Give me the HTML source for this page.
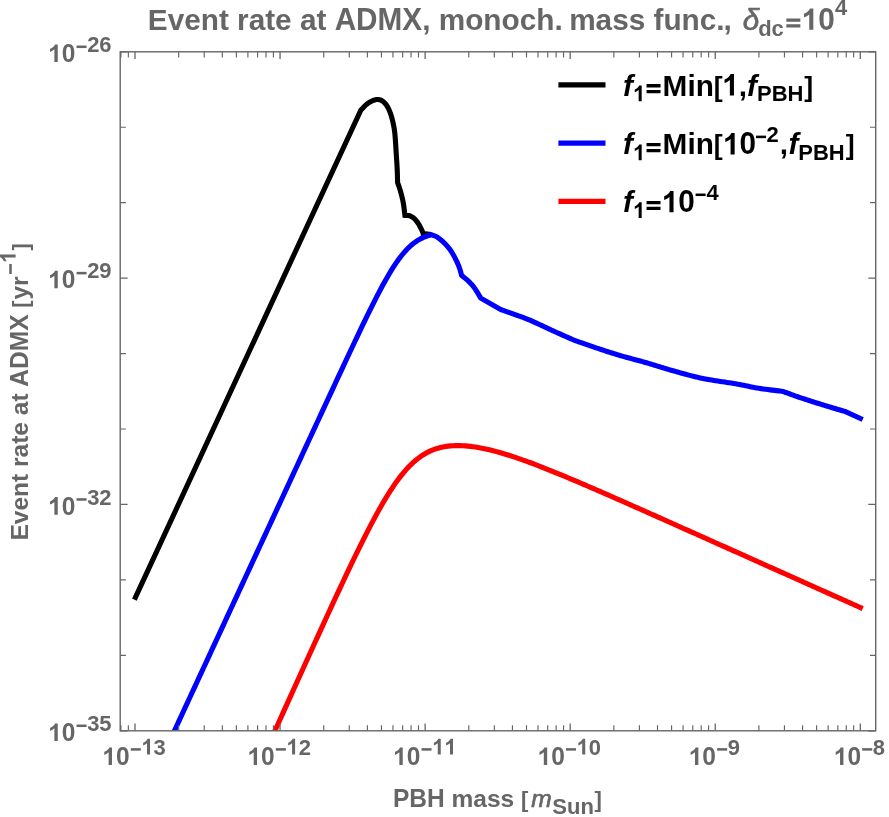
<!DOCTYPE html>
<html><head><meta charset="utf-8"><title>Event rate at ADMX</title>
<style>
html,body{margin:0;padding:0;background:#fff;}
svg{display:block;will-change:transform;font-family:"Liberation Sans",sans-serif;}
</style></head><body>
<svg width="889" height="817" viewBox="0 0 889 817">
<rect width="889" height="817" fill="#fff"/>
<clipPath id="c"><rect x="120.2" y="51.8" width="755.5" height="679.0"/></clipPath>
<g clip-path="url(#c)">
<path d="M134.40,599.65 L360.80,110.20 L361.10,109.89 L361.48,109.49 L361.92,109.02 L362.42,108.49 L362.96,107.91 L363.53,107.31 L364.12,106.70 L364.73,106.09 L365.33,105.50 L365.91,104.94 L366.47,104.44 L367.00,104.00 L367.51,103.61 L368.01,103.24 L368.52,102.90 L369.03,102.57 L369.54,102.27 L370.04,101.98 L370.53,101.71 L371.03,101.46 L371.51,101.22 L371.98,101.00 L372.45,100.79 L372.90,100.60 L373.34,100.42 L373.76,100.25 L374.18,100.10 L374.59,99.97 L374.98,99.85 L375.38,99.74 L375.76,99.66 L376.15,99.59 L376.53,99.54 L376.92,99.51 L377.31,99.49 L377.70,99.50 L378.10,99.52 L378.49,99.56 L378.89,99.61 L379.28,99.69 L379.68,99.77 L380.07,99.88 L380.46,100.01 L380.85,100.16 L381.24,100.33 L381.63,100.53 L382.02,100.75 L382.40,101.00 L382.78,101.28 L383.17,101.58 L383.56,101.90 L383.95,102.25 L384.33,102.62 L384.72,103.01 L385.10,103.43 L385.47,103.86 L385.84,104.32 L386.20,104.79 L386.56,105.29 L386.90,105.80 L387.23,106.33 L387.56,106.89 L387.89,107.48 L388.20,108.09 L388.51,108.71 L388.82,109.36 L389.12,110.02 L389.41,110.69 L389.69,111.38 L389.97,112.08 L390.24,112.79 L390.50,113.50 L390.75,114.22 L391.00,114.96 L391.24,115.71 L391.47,116.47 L391.69,117.25 L391.91,118.04 L392.12,118.84 L392.33,119.65 L392.53,120.47 L392.72,121.30 L392.91,122.15 L393.10,123.00 L393.28,123.84 L393.45,124.65 L393.62,125.44 L393.77,126.23 L393.93,127.03 L394.08,127.86 L394.22,128.72 L394.36,129.64 L394.50,130.62 L394.63,131.68 L394.77,132.84 L394.90,134.10 L395.03,135.50 L395.16,137.05 L395.29,138.72 L395.41,140.48 L395.54,142.31 L395.66,144.17 L395.77,146.05 L395.89,147.92 L395.99,149.74 L396.10,151.50 L396.20,153.16 L396.30,154.70 L396.39,156.14 L396.48,157.51 L396.57,158.82 L396.66,160.09 L396.74,161.32 L396.81,162.51 L396.89,163.68 L396.96,164.83 L397.02,165.97 L397.08,167.11 L397.14,168.25 L397.20,169.40 L397.25,170.59 L397.30,171.84 L397.34,173.11 L397.39,174.40 L397.42,175.67 L397.46,176.92 L397.49,178.11 L397.51,179.23 L397.54,180.26 L397.56,181.18 L397.58,181.97 L397.60,182.60 L397.72,182.94 L397.87,183.36 L398.05,183.85 L398.24,184.39 L398.46,184.98 L398.69,185.62 L398.92,186.29 L399.17,186.99 L399.41,187.71 L399.65,188.44 L399.88,189.17 L400.10,189.90 L400.32,190.65 L400.54,191.46 L400.78,192.30 L401.01,193.17 L401.25,194.07 L401.48,194.97 L401.71,195.87 L401.93,196.76 L402.15,197.63 L402.35,198.46 L402.53,199.26 L402.70,200.00 L402.85,200.69 L402.98,201.33 L403.10,201.94 L403.21,202.51 L403.31,203.07 L403.40,203.61 L403.49,204.14 L403.57,204.68 L403.65,205.22 L403.73,205.79 L403.81,206.38 L403.90,207.00 L403.99,207.68 L404.09,208.42 L404.19,209.20 L404.29,210.01 L404.38,210.83 L404.47,211.64 L404.56,212.42 L404.65,213.17 L404.72,213.86 L404.79,214.47 L404.85,214.99 L404.90,215.40 L405.13,215.41 L405.43,215.42 L405.77,215.42 L406.16,215.42 L406.58,215.43 L407.02,215.44 L407.49,215.46 L407.95,215.49 L408.42,215.54 L408.87,215.60 L409.30,215.69 L409.70,215.80 L410.08,215.93 L410.46,216.09 L410.84,216.25 L411.22,216.44 L411.60,216.64 L411.97,216.85 L412.34,217.08 L412.70,217.32 L413.06,217.57 L413.41,217.84 L413.76,218.11 L414.10,218.40 L414.44,218.70 L414.77,219.02 L415.09,219.36 L415.41,219.71 L415.73,220.07 L416.04,220.44 L416.35,220.83 L416.65,221.21 L416.95,221.61 L417.24,222.01 L417.52,222.40 L417.80,222.80 L418.07,223.20 L418.33,223.60 L418.59,224.02 L418.84,224.43 L419.08,224.86 L419.32,225.28 L419.55,225.71 L419.79,226.14 L420.01,226.58 L420.24,227.02 L420.47,227.46 L420.70,227.90 L420.94,228.36 L421.18,228.86 L421.43,229.38 L421.69,229.91 L421.94,230.44 L422.18,230.97 L422.42,231.48 L422.64,231.96 L422.84,232.40 L423.02,232.80 L423.18,233.13 L423.30,233.40 L423.30,233.60 L431.30,234.60" fill="none" stroke="#000" stroke-width="5.1" stroke-linejoin="miter" stroke-linecap="butt"/>
<path d="M169.00,742.49 L171.00,738.17 L173.00,733.85 L175.00,729.52 L177.00,725.20 L179.00,720.88 L181.00,716.56 L183.00,712.24 L185.00,707.92 L187.00,703.60 L189.00,699.28 L191.00,694.96 L193.00,690.64 L195.00,686.32 L197.00,682.00 L199.00,677.68 L201.00,673.35 L203.00,669.03 L205.00,664.71 L207.00,660.39 L209.00,656.07 L211.00,651.75 L213.00,647.43 L215.00,643.11 L217.00,638.79 L219.00,634.47 L221.00,630.15 L223.00,625.83 L225.00,621.50 L227.00,617.18 L229.00,612.86 L231.00,608.54 L233.00,604.22 L235.00,599.90 L237.00,595.58 L239.00,591.26 L241.00,586.94 L243.00,582.62 L245.00,578.30 L247.00,573.98 L249.00,569.66 L251.00,565.33 L253.00,561.01 L255.00,556.69 L257.00,552.37 L259.00,548.05 L261.00,543.73 L263.00,539.41 L265.00,535.09 L267.00,530.77 L269.00,526.45 L271.00,522.13 L273.00,517.81 L275.00,513.49 L277.00,509.17 L279.00,504.85 L281.00,500.52 L283.00,496.20 L285.00,491.88 L287.00,487.56 L289.00,483.24 L291.00,478.92 L293.00,474.60 L295.00,470.28 L297.00,465.96 L299.00,461.64 L301.00,457.33 L303.00,453.01 L305.00,448.69 L307.00,444.37 L309.00,440.05 L311.00,435.73 L313.00,431.42 L315.00,427.10 L317.00,422.78 L319.00,418.47 L321.00,414.15 L323.00,409.84 L325.00,405.53 L327.00,401.22 L329.00,396.91 L331.00,392.60 L333.00,388.30 L335.00,384.00 L337.00,379.70 L339.00,375.40 L341.00,371.11 L343.00,366.83 L345.00,362.54 L347.00,358.27 L349.00,354.00 L351.00,349.75 L353.00,345.50 L355.00,341.26 L357.00,337.04 L359.00,332.83 L361.00,328.64 L363.00,324.47 L365.00,320.32 L367.00,316.21 L369.00,312.12 L371.00,308.07 L373.00,304.05 L375.00,300.09 L377.00,296.17 L379.00,292.32 L381.00,288.53 L383.00,284.82 L385.00,281.19 L387.00,277.65 L389.00,274.21 L391.00,270.89 L393.00,267.68 L395.00,264.61 L397.00,261.67 L399.00,258.88 L401.00,256.24 L403.00,253.76 L405.00,251.44 L407.00,249.28 L409.00,247.29 L411.00,245.47 L413.00,243.80 L415.00,242.28 L417.00,240.92 L419.00,239.69 L421.00,238.60 L423.00,237.63 L425.00,236.77 L427.00,236.02 L429.00,235.36 L431.30,234.71 L431.59,234.81 L431.94,234.93 L432.35,235.07 L432.80,235.22 L433.30,235.38 L433.84,235.57 L434.40,235.77 L434.97,236.00 L435.56,236.26 L436.15,236.54 L436.73,236.85 L437.30,237.20 L437.87,237.58 L438.47,238.01 L439.08,238.46 L439.71,238.95 L440.35,239.46 L440.99,240.00 L441.64,240.55 L442.28,241.11 L442.91,241.69 L443.53,242.26 L444.12,242.83 L444.70,243.40 L445.26,243.97 L445.81,244.54 L446.34,245.12 L446.87,245.70 L447.39,246.30 L447.91,246.90 L448.41,247.51 L448.90,248.13 L449.39,248.76 L449.87,249.40 L450.34,250.04 L450.80,250.70 L451.25,251.37 L451.70,252.06 L452.14,252.76 L452.57,253.47 L452.99,254.20 L453.40,254.92 L453.80,255.66 L454.20,256.39 L454.59,257.13 L454.97,257.86 L455.34,258.58 L455.70,259.30 L456.06,260.01 L456.40,260.73 L456.74,261.45 L457.08,262.17 L457.40,262.89 L457.72,263.61 L458.03,264.33 L458.32,265.04 L458.61,265.74 L458.88,266.44 L459.15,267.12 L459.40,267.80 L459.64,268.49 L459.88,269.21 L460.11,269.94 L460.33,270.68 L460.53,271.42 L460.73,272.13 L460.92,272.82 L461.09,273.46 L461.24,274.06 L461.38,274.58 L461.50,275.04 L461.60,275.40 L461.90,275.65 L462.29,275.96 L462.73,276.32 L463.24,276.72 L463.78,277.16 L464.36,277.63 L464.96,278.12 L465.57,278.63 L466.18,279.15 L466.78,279.67 L467.36,280.19 L467.90,280.70 L468.42,281.20 L468.93,281.69 L469.45,282.18 L469.96,282.68 L470.47,283.19 L470.97,283.71 L471.49,284.25 L472.00,284.82 L472.52,285.41 L473.04,286.04 L473.57,286.70 L474.10,287.40 L474.66,288.19 L475.27,289.08 L475.90,290.04 L476.54,291.07 L477.20,292.12 L477.84,293.17 L478.46,294.20 L479.04,295.18 L479.58,296.08 L480.07,296.89 L480.47,297.57 L480.80,298.10 L500.60,309.50 L501.33,309.76 L502.25,310.08 L503.33,310.45 L504.54,310.87 L505.86,311.33 L507.26,311.81 L508.70,312.32 L510.17,312.83 L511.63,313.34 L513.05,313.85 L514.42,314.34 L515.70,314.80 L516.90,315.23 L518.05,315.64 L519.17,316.04 L520.27,316.43 L521.37,316.82 L522.47,317.22 L523.59,317.63 L524.75,318.07 L525.96,318.54 L527.23,319.04 L528.57,319.60 L530.00,320.20 L531.52,320.86 L533.12,321.58 L534.79,322.34 L536.51,323.13 L538.29,323.96 L540.10,324.81 L541.94,325.68 L543.80,326.56 L545.66,327.43 L547.52,328.30 L549.37,329.16 L551.20,330.00 L553.09,330.86 L555.11,331.77 L557.22,332.72 L559.38,333.69 L561.54,334.66 L563.68,335.61 L565.73,336.53 L567.68,337.40 L569.47,338.20 L571.06,338.91 L572.42,339.52 L573.50,340.00 L574.58,340.38 L575.93,340.85 L577.51,341.40 L579.28,342.03 L581.20,342.70 L583.25,343.42 L585.38,344.16 L587.56,344.92 L589.74,345.67 L591.90,346.42 L594.00,347.13 L596.00,347.80 L597.95,348.45 L599.91,349.10 L601.88,349.76 L603.87,350.41 L605.87,351.07 L607.88,351.72 L609.89,352.37 L611.91,353.01 L613.93,353.65 L615.95,354.28 L617.98,354.89 L620.00,355.50 L622.02,356.09 L624.05,356.67 L626.09,357.23 L628.13,357.78 L630.17,358.33 L632.22,358.87 L634.27,359.41 L636.31,359.95 L638.36,360.50 L640.41,361.05 L642.46,361.62 L644.50,362.20 L646.54,362.79 L648.58,363.40 L650.63,364.02 L652.67,364.64 L654.71,365.27 L656.76,365.90 L658.80,366.53 L660.84,367.16 L662.88,367.78 L664.92,368.40 L666.96,369.01 L669.00,369.60 L671.06,370.19 L673.16,370.79 L675.29,371.40 L677.43,372.00 L679.57,372.60 L681.69,373.19 L683.79,373.77 L685.85,374.33 L687.85,374.87 L689.79,375.38 L691.64,375.86 L693.40,376.30 L695.03,376.70 L696.51,377.06 L697.89,377.39 L699.17,377.69 L700.41,377.96 L701.62,378.22 L702.83,378.47 L704.08,378.71 L705.39,378.96 L706.80,379.22 L708.32,379.50 L710.00,379.80 L711.83,380.11 L713.78,380.43 L715.84,380.75 L717.98,381.08 L720.18,381.41 L722.43,381.74 L724.70,382.07 L726.97,382.41 L729.23,382.75 L731.45,383.10 L733.61,383.45 L735.70,383.80 L737.72,384.16 L739.72,384.54 L741.68,384.92 L743.63,385.31 L745.55,385.71 L747.47,386.11 L749.38,386.50 L751.29,386.89 L753.20,387.26 L755.12,387.63 L757.05,387.97 L759.00,388.30 L761.04,388.62 L763.21,388.93 L765.47,389.25 L767.78,389.55 L770.09,389.85 L772.36,390.13 L774.55,390.40 L776.61,390.65 L778.51,390.88 L780.20,391.08 L781.65,391.25 L782.80,391.40 L783.61,391.69 L784.61,392.06 L785.77,392.48 L787.06,392.96 L788.48,393.47 L789.99,394.02 L791.59,394.60 L793.24,395.19 L794.92,395.79 L796.63,396.39 L798.33,396.98 L800.00,397.55 L801.69,398.11 L803.44,398.69 L805.25,399.29 L807.11,399.89 L809.00,400.50 L810.92,401.11 L812.86,401.73 L814.80,402.34 L816.75,402.96 L818.69,403.56 L820.61,404.16 L822.50,404.75 L824.45,405.35 L826.51,405.98 L828.65,406.63 L830.83,407.28 L833.01,407.94 L835.16,408.57 L837.22,409.19 L839.17,409.77 L840.96,410.30 L842.55,410.77 L843.91,411.18 L845.00,411.50 L862.70,419.50" fill="none" stroke="#0000ff" stroke-width="5.1" stroke-linejoin="miter" stroke-linecap="butt"/>
<path d="M268.00,746.11 L270.50,740.57 L273.00,735.03 L275.50,729.50 L278.00,723.97 L280.50,718.44 L283.00,712.91 L285.50,707.38 L288.00,701.85 L290.50,696.33 L293.00,690.81 L295.50,685.29 L298.00,679.78 L300.50,674.26 L303.00,668.76 L305.50,663.25 L308.00,657.76 L310.50,652.26 L313.00,646.77 L315.50,641.29 L318.00,635.82 L320.50,630.35 L323.00,624.90 L325.50,619.45 L328.00,614.02 L330.50,608.59 L333.00,603.19 L335.50,597.79 L338.00,592.42 L340.50,587.06 L343.00,581.73 L345.50,576.43 L348.00,571.15 L350.50,565.90 L353.00,560.69 L355.50,555.51 L358.00,550.38 L360.50,545.30 L363.00,540.28 L365.50,535.31 L368.00,530.41 L370.50,525.58 L373.00,520.84 L375.50,516.18 L378.00,511.62 L380.50,507.17 L383.00,502.83 L385.50,498.61 L388.00,494.53 L390.50,490.59 L393.00,486.80 L395.50,483.17 L398.00,479.70 L400.50,476.41 L403.00,473.30 L405.50,470.36 L408.00,467.62 L410.50,465.05 L413.00,462.68 L415.50,460.48 L418.00,458.47 L420.50,456.63 L423.00,454.97 L425.50,453.47 L428.00,452.12 L430.50,450.93 L433.00,449.88 L435.50,448.97 L438.00,448.18 L440.50,447.51 L443.00,446.95 L445.50,446.50 L448.00,446.14 L450.50,445.88 L453.00,445.70 L455.50,445.59 L458.00,445.57 L460.50,445.61 L463.00,445.71 L465.50,445.87 L468.00,446.09 L470.50,446.36 L473.00,446.68 L475.50,447.05 L478.00,447.46 L480.50,447.91 L483.00,448.40 L485.50,448.93 L488.00,449.49 L490.50,450.08 L493.00,450.70 L495.50,451.36 L498.00,452.04 L500.50,452.74 L503.00,453.47 L505.50,454.22 L508.00,455.00 L510.50,455.79 L513.00,456.61 L515.50,457.44 L518.00,458.29 L520.50,459.15 L523.00,460.04 L525.50,460.93 L528.00,461.84 L530.50,462.76 L533.00,463.70 L535.50,464.65 L538.00,465.60 L540.50,466.57 L543.00,467.55 L545.50,468.53 L548.00,469.53 L550.50,470.53 L553.00,471.54 L555.50,472.56 L558.00,473.58 L560.50,474.61 L563.00,475.64 L565.50,476.68 L568.00,477.73 L570.50,478.78 L573.00,479.84 L575.50,480.89 L578.00,481.96 L580.50,483.02 L583.00,484.09 L585.50,485.17 L588.00,486.24 L590.50,487.32 L593.00,488.40 L595.50,489.49 L598.00,490.58 L600.50,491.66 L603.00,492.75 L605.50,493.85 L608.00,494.94 L610.50,496.04 L613.00,497.13 L615.50,498.23 L618.00,499.33 L620.50,500.43 L623.00,501.54 L625.50,502.64 L628.00,503.75 L630.50,504.85 L633.00,505.96 L635.50,507.06 L638.00,508.17 L640.50,509.28 L643.00,510.39 L645.50,511.50 L648.00,512.61 L650.50,513.72 L653.00,514.83 L655.50,515.95 L658.00,517.06 L660.50,518.17 L663.00,519.29 L665.50,520.40 L668.00,521.51 L670.50,522.63 L673.00,523.74 L675.50,524.86 L678.00,525.97 L680.50,527.09 L683.00,528.21 L685.50,529.32 L688.00,530.44 L690.50,531.55 L693.00,532.67 L695.50,533.79 L698.00,534.90 L700.50,536.02 L703.00,537.14 L705.50,538.26 L708.00,539.37 L710.50,540.49 L713.00,541.61 L715.50,542.73 L718.00,543.84 L720.50,544.96 L723.00,546.08 L725.50,547.20 L728.00,548.32 L730.50,549.43 L733.00,550.55 L735.50,551.67 L738.00,552.79 L740.50,553.91 L743.00,555.03 L745.50,556.14 L748.00,557.26 L750.50,558.38 L753.00,559.50 L755.50,560.62 L758.00,561.74 L760.50,562.86 L763.00,563.97 L765.50,565.09 L768.00,566.21 L770.50,567.33 L773.00,568.45 L775.50,569.57 L778.00,570.69 L780.50,571.81 L783.00,572.92 L785.50,574.04 L788.00,575.16 L790.50,576.28 L793.00,577.40 L795.50,578.52 L798.00,579.64 L800.50,580.76 L803.00,581.88 L805.50,582.99 L808.00,584.11 L810.50,585.23 L813.00,586.35 L815.50,587.47 L818.00,588.59 L820.50,589.71 L823.00,590.83 L825.50,591.95 L828.00,593.06 L830.50,594.18 L833.00,595.30 L835.50,596.42 L838.00,597.54 L840.50,598.66 L843.00,599.78 L845.50,600.90 L848.00,602.02 L850.50,603.13 L853.00,604.25 L855.50,605.37 L858.00,606.49 L860.50,607.61 L862.70,608.60" fill="none" stroke="#ff0000" stroke-width="5.1" stroke-linejoin="miter" stroke-linecap="butt"/>
</g>
<rect x="120.2" y="51.8" width="755.5" height="679.0" fill="none" stroke="#666" stroke-width="1.4"/>
<path d="M120.94,730.8 v-5.6 M120.94,51.8 v5.6" stroke="#666" stroke-width="1.15" fill="none"/>
<path d="M128.36,730.8 v-5.6 M128.36,51.8 v5.6" stroke="#666" stroke-width="1.15" fill="none"/>
<path d="M135.00,730.8 v-7.2 M135.00,51.8 v7.2" stroke="#666" stroke-width="1.3" fill="none"/>
<path d="M178.67,730.8 v-5.6 M178.67,51.8 v5.6" stroke="#666" stroke-width="1.15" fill="none"/>
<path d="M204.21,730.8 v-5.6 M204.21,51.8 v5.6" stroke="#666" stroke-width="1.15" fill="none"/>
<path d="M222.33,730.8 v-5.6 M222.33,51.8 v5.6" stroke="#666" stroke-width="1.15" fill="none"/>
<path d="M236.39,730.8 v-5.6 M236.39,51.8 v5.6" stroke="#666" stroke-width="1.15" fill="none"/>
<path d="M247.88,730.8 v-5.6 M247.88,51.8 v5.6" stroke="#666" stroke-width="1.15" fill="none"/>
<path d="M257.59,730.8 v-5.6 M257.59,51.8 v5.6" stroke="#666" stroke-width="1.15" fill="none"/>
<path d="M266.00,730.8 v-5.6 M266.00,51.8 v5.6" stroke="#666" stroke-width="1.15" fill="none"/>
<path d="M273.42,730.8 v-5.6 M273.42,51.8 v5.6" stroke="#666" stroke-width="1.15" fill="none"/>
<path d="M280.06,730.8 v-7.2 M280.06,51.8 v7.2" stroke="#666" stroke-width="1.3" fill="none"/>
<path d="M323.73,730.8 v-5.6 M323.73,51.8 v5.6" stroke="#666" stroke-width="1.15" fill="none"/>
<path d="M349.27,730.8 v-5.6 M349.27,51.8 v5.6" stroke="#666" stroke-width="1.15" fill="none"/>
<path d="M367.39,730.8 v-5.6 M367.39,51.8 v5.6" stroke="#666" stroke-width="1.15" fill="none"/>
<path d="M381.45,730.8 v-5.6 M381.45,51.8 v5.6" stroke="#666" stroke-width="1.15" fill="none"/>
<path d="M392.94,730.8 v-5.6 M392.94,51.8 v5.6" stroke="#666" stroke-width="1.15" fill="none"/>
<path d="M402.65,730.8 v-5.6 M402.65,51.8 v5.6" stroke="#666" stroke-width="1.15" fill="none"/>
<path d="M411.06,730.8 v-5.6 M411.06,51.8 v5.6" stroke="#666" stroke-width="1.15" fill="none"/>
<path d="M418.48,730.8 v-5.6 M418.48,51.8 v5.6" stroke="#666" stroke-width="1.15" fill="none"/>
<path d="M425.12,730.8 v-7.2 M425.12,51.8 v7.2" stroke="#666" stroke-width="1.3" fill="none"/>
<path d="M468.79,730.8 v-5.6 M468.79,51.8 v5.6" stroke="#666" stroke-width="1.15" fill="none"/>
<path d="M494.33,730.8 v-5.6 M494.33,51.8 v5.6" stroke="#666" stroke-width="1.15" fill="none"/>
<path d="M512.45,730.8 v-5.6 M512.45,51.8 v5.6" stroke="#666" stroke-width="1.15" fill="none"/>
<path d="M526.51,730.8 v-5.6 M526.51,51.8 v5.6" stroke="#666" stroke-width="1.15" fill="none"/>
<path d="M538.00,730.8 v-5.6 M538.00,51.8 v5.6" stroke="#666" stroke-width="1.15" fill="none"/>
<path d="M547.71,730.8 v-5.6 M547.71,51.8 v5.6" stroke="#666" stroke-width="1.15" fill="none"/>
<path d="M556.12,730.8 v-5.6 M556.12,51.8 v5.6" stroke="#666" stroke-width="1.15" fill="none"/>
<path d="M563.54,730.8 v-5.6 M563.54,51.8 v5.6" stroke="#666" stroke-width="1.15" fill="none"/>
<path d="M570.18,730.8 v-7.2 M570.18,51.8 v7.2" stroke="#666" stroke-width="1.3" fill="none"/>
<path d="M613.85,730.8 v-5.6 M613.85,51.8 v5.6" stroke="#666" stroke-width="1.15" fill="none"/>
<path d="M639.39,730.8 v-5.6 M639.39,51.8 v5.6" stroke="#666" stroke-width="1.15" fill="none"/>
<path d="M657.51,730.8 v-5.6 M657.51,51.8 v5.6" stroke="#666" stroke-width="1.15" fill="none"/>
<path d="M671.57,730.8 v-5.6 M671.57,51.8 v5.6" stroke="#666" stroke-width="1.15" fill="none"/>
<path d="M683.06,730.8 v-5.6 M683.06,51.8 v5.6" stroke="#666" stroke-width="1.15" fill="none"/>
<path d="M692.77,730.8 v-5.6 M692.77,51.8 v5.6" stroke="#666" stroke-width="1.15" fill="none"/>
<path d="M701.18,730.8 v-5.6 M701.18,51.8 v5.6" stroke="#666" stroke-width="1.15" fill="none"/>
<path d="M708.60,730.8 v-5.6 M708.60,51.8 v5.6" stroke="#666" stroke-width="1.15" fill="none"/>
<path d="M715.24,730.8 v-7.2 M715.24,51.8 v7.2" stroke="#666" stroke-width="1.3" fill="none"/>
<path d="M758.91,730.8 v-5.6 M758.91,51.8 v5.6" stroke="#666" stroke-width="1.15" fill="none"/>
<path d="M784.45,730.8 v-5.6 M784.45,51.8 v5.6" stroke="#666" stroke-width="1.15" fill="none"/>
<path d="M802.57,730.8 v-5.6 M802.57,51.8 v5.6" stroke="#666" stroke-width="1.15" fill="none"/>
<path d="M816.63,730.8 v-5.6 M816.63,51.8 v5.6" stroke="#666" stroke-width="1.15" fill="none"/>
<path d="M828.12,730.8 v-5.6 M828.12,51.8 v5.6" stroke="#666" stroke-width="1.15" fill="none"/>
<path d="M837.83,730.8 v-5.6 M837.83,51.8 v5.6" stroke="#666" stroke-width="1.15" fill="none"/>
<path d="M846.24,730.8 v-5.6 M846.24,51.8 v5.6" stroke="#666" stroke-width="1.15" fill="none"/>
<path d="M853.66,730.8 v-5.6 M853.66,51.8 v5.6" stroke="#666" stroke-width="1.15" fill="none"/>
<path d="M860.30,730.8 v-7.2 M860.30,51.8 v7.2" stroke="#666" stroke-width="1.3" fill="none"/>
<path d="M120.2,51.80 h7.4 M875.7,51.80 h-7.4" stroke="#666" stroke-width="1.3" fill="none"/>
<path d="M120.2,127.24 h5.7 M875.7,127.24 h-5.7" stroke="#666" stroke-width="1.15" fill="none"/>
<path d="M120.2,202.69 h5.7 M875.7,202.69 h-5.7" stroke="#666" stroke-width="1.15" fill="none"/>
<path d="M120.2,278.13 h7.4 M875.7,278.13 h-7.4" stroke="#666" stroke-width="1.3" fill="none"/>
<path d="M120.2,353.58 h5.7 M875.7,353.58 h-5.7" stroke="#666" stroke-width="1.15" fill="none"/>
<path d="M120.2,429.02 h5.7 M875.7,429.02 h-5.7" stroke="#666" stroke-width="1.15" fill="none"/>
<path d="M120.2,504.47 h7.4 M875.7,504.47 h-7.4" stroke="#666" stroke-width="1.3" fill="none"/>
<path d="M120.2,579.91 h5.7 M875.7,579.91 h-5.7" stroke="#666" stroke-width="1.15" fill="none"/>
<path d="M120.2,655.36 h5.7 M875.7,655.36 h-5.7" stroke="#666" stroke-width="1.15" fill="none"/>
<path d="M120.2,730.80 h7.4 M875.7,730.80 h-7.4" stroke="#666" stroke-width="1.3" fill="none"/>
<path transform="translate(102.35,765.00) scale(0.01196,-0.01196)" d="M806 0h-281v1059q-154 -144 -363 -213v255q110 36 239 136.5t177 234.5h228v-1472z" fill="#666"/>
<text transform="translate(115.98,765.00) scale(1,1.035)" font-size="24.5" font-weight="bold" fill="#666">0</text>
<rect x="130.79" y="748.13" width="10.01" height="2.53" fill="#666"/>
<path transform="translate(141.38,754.50) scale(0.01074,-0.01074)" d="M806 0h-281v1059q-154 -144 -363 -213v255q110 36 239 136.5t177 234.5h228v-1472z" fill="#666"/>
<text transform="translate(153.61,754.50) scale(1,1.035)" font-size="22.0" font-weight="bold" fill="#666">3</text>
<path transform="translate(247.41,765.00) scale(0.01196,-0.01196)" d="M806 0h-281v1059q-154 -144 -363 -213v255q110 36 239 136.5t177 234.5h228v-1472z" fill="#666"/>
<text transform="translate(261.04,765.00) scale(1,1.035)" font-size="24.5" font-weight="bold" fill="#666">0</text>
<rect x="275.85" y="748.13" width="10.01" height="2.53" fill="#666"/>
<path transform="translate(286.44,754.50) scale(0.01074,-0.01074)" d="M806 0h-281v1059q-154 -144 -363 -213v255q110 36 239 136.5t177 234.5h228v-1472z" fill="#666"/>
<text transform="translate(298.67,754.50) scale(1,1.035)" font-size="22.0" font-weight="bold" fill="#666">2</text>
<path transform="translate(393.08,765.00) scale(0.01196,-0.01196)" d="M806 0h-281v1059q-154 -144 -363 -213v255q110 36 239 136.5t177 234.5h228v-1472z" fill="#666"/>
<text transform="translate(406.71,765.00) scale(1,1.035)" font-size="24.5" font-weight="bold" fill="#666">0</text>
<rect x="421.52" y="748.13" width="10.01" height="2.53" fill="#666"/>
<path transform="translate(432.10,754.50) scale(0.01074,-0.01074)" d="M806 0h-281v1059q-154 -144 -363 -213v255q110 36 239 136.5t177 234.5h228v-1472z" fill="#666"/>
<path transform="translate(444.34,754.50) scale(0.01074,-0.01074)" d="M806 0h-281v1059q-154 -144 -363 -213v255q110 36 239 136.5t177 234.5h228v-1472z" fill="#666"/>
<path transform="translate(537.53,765.00) scale(0.01196,-0.01196)" d="M806 0h-281v1059q-154 -144 -363 -213v255q110 36 239 136.5t177 234.5h228v-1472z" fill="#666"/>
<text transform="translate(551.16,765.00) scale(1,1.035)" font-size="24.5" font-weight="bold" fill="#666">0</text>
<rect x="565.97" y="748.13" width="10.01" height="2.53" fill="#666"/>
<path transform="translate(576.56,754.50) scale(0.01074,-0.01074)" d="M806 0h-281v1059q-154 -144 -363 -213v255q110 36 239 136.5t177 234.5h228v-1472z" fill="#666"/>
<text transform="translate(588.79,754.50) scale(1,1.035)" font-size="22.0" font-weight="bold" fill="#666">0</text>
<path transform="translate(688.71,765.00) scale(0.01196,-0.01196)" d="M806 0h-281v1059q-154 -144 -363 -213v255q110 36 239 136.5t177 234.5h228v-1472z" fill="#666"/>
<text transform="translate(702.34,765.00) scale(1,1.035)" font-size="24.5" font-weight="bold" fill="#666">0</text>
<rect x="717.15" y="748.13" width="10.01" height="2.53" fill="#666"/>
<text transform="translate(727.73,754.50) scale(1,1.035)" font-size="22.0" font-weight="bold" fill="#666">9</text>
<path transform="translate(833.77,765.00) scale(0.01196,-0.01196)" d="M806 0h-281v1059q-154 -144 -363 -213v255q110 36 239 136.5t177 234.5h228v-1472z" fill="#666"/>
<text transform="translate(847.40,765.00) scale(1,1.035)" font-size="24.5" font-weight="bold" fill="#666">0</text>
<rect x="862.21" y="748.13" width="10.01" height="2.53" fill="#666"/>
<text transform="translate(872.79,754.50) scale(1,1.035)" font-size="22.0" font-weight="bold" fill="#666">8</text>
<path transform="translate(48.11,62.00) scale(0.01196,-0.01196)" d="M806 0h-281v1059q-154 -144 -363 -213v255q110 36 239 136.5t177 234.5h228v-1472z" fill="#666"/>
<text transform="translate(61.73,62.00) scale(1,1.035)" font-size="24.5" font-weight="bold" fill="#666">0</text>
<rect x="76.55" y="45.53" width="10.01" height="2.53" fill="#666"/>
<text transform="translate(87.13,51.90) scale(1,1.035)" font-size="22.0" font-weight="bold" fill="#666">26</text>
<path transform="translate(48.11,288.33) scale(0.01196,-0.01196)" d="M806 0h-281v1059q-154 -144 -363 -213v255q110 36 239 136.5t177 234.5h228v-1472z" fill="#666"/>
<text transform="translate(61.73,288.33) scale(1,1.035)" font-size="24.5" font-weight="bold" fill="#666">0</text>
<rect x="76.55" y="271.86" width="10.01" height="2.53" fill="#666"/>
<text transform="translate(87.13,278.23) scale(1,1.035)" font-size="22.0" font-weight="bold" fill="#666">29</text>
<path transform="translate(48.11,514.67) scale(0.01196,-0.01196)" d="M806 0h-281v1059q-154 -144 -363 -213v255q110 36 239 136.5t177 234.5h228v-1472z" fill="#666"/>
<text transform="translate(61.73,514.67) scale(1,1.035)" font-size="24.5" font-weight="bold" fill="#666">0</text>
<rect x="76.55" y="498.20" width="10.01" height="2.53" fill="#666"/>
<text transform="translate(87.13,504.57) scale(1,1.035)" font-size="22.0" font-weight="bold" fill="#666">32</text>
<path transform="translate(48.11,741.00) scale(0.01196,-0.01196)" d="M806 0h-281v1059q-154 -144 -363 -213v255q110 36 239 136.5t177 234.5h228v-1472z" fill="#666"/>
<text transform="translate(61.73,741.00) scale(1,1.035)" font-size="24.5" font-weight="bold" fill="#666">0</text>
<rect x="76.55" y="724.53" width="10.01" height="2.53" fill="#666"/>
<text transform="translate(87.13,730.90) scale(1,1.035)" font-size="22.0" font-weight="bold" fill="#666">35</text>
<text transform="translate(393.00,807.00) scale(1,1.035)" font-size="24.5" font-weight="bold" fill="#666">PBH</text>
<text x="444.73" y="807.00" font-size="24.5" font-weight="bold" fill="#666" xml:space="preserve"> mass </text>
<text transform="translate(521.00,807.00) scale(0.9)" font-size="24.5" font-weight="bold" fill="#666">[</text>
<text x="531.16" y="807.00" font-size="24.5" font-weight="normal" font-style="italic" stroke="#666" stroke-width="0.7" fill="#666" xml:space="preserve">m</text>
<text x="552.37" y="813.50" font-size="22.0" font-weight="bold" fill="#666" xml:space="preserve">Sun</text>
<text transform="translate(594.42,807.00) scale(0.9)" font-size="24.5" font-weight="bold" fill="#666">]</text>
<g transform="translate(27.6,540.5) rotate(-90)">
<text x="0.00" y="0.00" font-size="24.5" font-weight="bold" fill="#666" xml:space="preserve">Event rate at </text>
<text transform="translate(153.87,0.00) scale(1,1.035)" font-size="24.5" font-weight="bold" fill="#666">ADMX</text>
<text x="226.00" y="0.00" font-size="24.5" font-weight="bold" fill="#666" xml:space="preserve"> </text>
<text transform="translate(232.81,0.00) scale(0.9)" font-size="24.5" font-weight="bold" fill="#666">[</text>
<text x="240.97" y="0.00" font-size="24.5" font-weight="bold" fill="#666" xml:space="preserve">yr</text>
<rect x="266.52" y="-18.37" width="10.01" height="2.53" fill="#666"/>
<path transform="translate(277.40,-12.00) scale(0.01074,-0.01074)" d="M806 0h-281v1059q-154 -144 -363 -213v255q110 36 239 136.5t177 234.5h228v-1472z" fill="#666"/>
<text transform="translate(289.94,0.00) scale(0.9)" font-size="24.5" font-weight="bold" fill="#666">]</text>
</g>
<text x="147.80" y="29.80" font-size="29.75" font-weight="bold" fill="#666" xml:space="preserve">Event rate at </text>
<text transform="translate(334.64,29.80) scale(1,1.035)" font-size="29.75" font-weight="bold" fill="#666">ADMX</text>
<text x="422.23" y="29.80" font-size="29.75" font-weight="bold" fill="#666" xml:space="preserve">, monoch.</text>
<text x="560.92" y="29.80" font-size="29.75" font-weight="bold" fill="#666" xml:space="preserve"> mass func.</text>
<text x="723.60" y="29.80" font-size="29.75" font-weight="bold" fill="#666" xml:space="preserve">, </text>
<text x="742.63" y="29.80" font-size="29.75" font-weight="normal" font-style="italic" stroke="#666" stroke-width="0.7" fill="#666" xml:space="preserve">δ</text>
<text x="758.16" y="35.70" font-size="22.0" font-weight="bold" fill="#666" xml:space="preserve">dc</text>
<path d="M786.34,18.40h14.00v3.30h-14.00z M786.34,24.30h14.00v3.30h-14.00z" fill="#666"/>
<path transform="translate(801.61,29.80) scale(0.01453,-0.01453)" d="M806 0h-281v1059q-154 -144 -363 -213v255q110 36 239 136.5t177 234.5h228v-1472z" fill="#666"/>
<text transform="translate(818.16,29.80) scale(1,1.035)" font-size="29.75" font-weight="bold" fill="#666">0</text>
<text transform="translate(835.00,15.10) scale(1,1.035)" font-size="22.0" font-weight="bold" fill="#666">4</text>
<path d="M558.4,84.9 H605.5" stroke="#000" stroke-width="5.1" fill="none"/>
<path d="M558.4,143.1 H605.5" stroke="#0000ff" stroke-width="5.1" fill="none"/>
<path d="M558.4,201.4 H605.5" stroke="#ff0000" stroke-width="5.1" fill="none"/>
<text x="623.10" y="95.50" font-size="29.75" font-weight="bold" font-style="italic" fill="#000" xml:space="preserve">f</text>
<path transform="translate(633.01,101.30) scale(0.01074,-0.01074)" d="M806 0h-281v1059q-154 -144 -363 -213v255q110 36 239 136.5t177 234.5h228v-1472z" fill="#000"/>
<path d="M646.54,84.10h14.00v3.30h-14.00z M646.54,90.00h14.00v3.30h-14.00z" fill="#000"/>
<text x="662.62" y="95.50" font-size="29.75" font-weight="bold" fill="#000" xml:space="preserve">Min</text>
<text transform="translate(713.84,95.50) scale(0.9)" font-size="29.75" font-weight="bold" fill="#000">[</text>
<path transform="translate(722.24,95.50) scale(0.01453,-0.01453)" d="M806 0h-281v1059q-154 -144 -363 -213v255q110 36 239 136.5t177 234.5h228v-1472z" fill="#000"/>
<text x="738.79" y="95.50" font-size="29.75" font-weight="bold" fill="#000" xml:space="preserve">,</text>
<text x="747.05" y="95.50" font-size="29.75" font-weight="bold" font-style="italic" fill="#000" xml:space="preserve">f</text>
<text transform="translate(756.96,101.40) scale(1,1.035)" font-size="22.0" font-weight="bold" fill="#000">PBH</text>
<text transform="translate(804.21,95.50) scale(0.9)" font-size="29.75" font-weight="bold" fill="#000">]</text>
<text x="623.10" y="154.40" font-size="29.75" font-weight="bold" font-style="italic" fill="#000" xml:space="preserve">f</text>
<path transform="translate(633.01,160.20) scale(0.01074,-0.01074)" d="M806 0h-281v1059q-154 -144 -363 -213v255q110 36 239 136.5t177 234.5h228v-1472z" fill="#000"/>
<path d="M646.54,143.00h14.00v3.30h-14.00z M646.54,148.90h14.00v3.30h-14.00z" fill="#000"/>
<text x="662.62" y="154.40" font-size="29.75" font-weight="bold" fill="#000" xml:space="preserve">Min</text>
<text transform="translate(713.84,154.40) scale(0.9)" font-size="29.75" font-weight="bold" fill="#000">[</text>
<path transform="translate(722.94,154.40) scale(0.01453,-0.01453)" d="M806 0h-281v1059q-154 -144 -363 -213v255q110 36 239 136.5t177 234.5h228v-1472z" fill="#000"/>
<text transform="translate(739.49,154.40) scale(1,1.035)" font-size="29.75" font-weight="bold" fill="#000">0</text>
<rect x="756.02" y="135.63" width="10.01" height="2.53" fill="#000"/>
<text transform="translate(766.40,142.00) scale(1,1.035)" font-size="22.0" font-weight="bold" fill="#000">2</text>
<text x="779.64" y="154.40" font-size="29.75" font-weight="bold" fill="#000" xml:space="preserve">,</text>
<text x="788.41" y="154.40" font-size="29.75" font-weight="bold" font-style="italic" fill="#000" xml:space="preserve">f</text>
<text transform="translate(798.31,160.30) scale(1,1.035)" font-size="22.0" font-weight="bold" fill="#000">PBH</text>
<text transform="translate(845.76,154.40) scale(0.9)" font-size="29.75" font-weight="bold" fill="#000">]</text>
<text x="623.10" y="212.30" font-size="29.75" font-weight="bold" font-style="italic" fill="#000" xml:space="preserve">f</text>
<path transform="translate(633.01,218.10) scale(0.01074,-0.01074)" d="M806 0h-281v1059q-154 -144 -363 -213v255q110 36 239 136.5t177 234.5h228v-1472z" fill="#000"/>
<path d="M646.54,200.90h14.00v3.30h-14.00z M646.54,206.80h14.00v3.30h-14.00z" fill="#000"/>
<path transform="translate(661.82,212.30) scale(0.01453,-0.01453)" d="M806 0h-281v1059q-154 -144 -363 -213v255q110 36 239 136.5t177 234.5h228v-1472z" fill="#000"/>
<text transform="translate(678.36,212.30) scale(1,1.035)" font-size="29.75" font-weight="bold" fill="#000">0</text>
<rect x="695.60" y="193.53" width="10.01" height="2.53" fill="#000"/>
<text transform="translate(706.38,199.90) scale(1,1.035)" font-size="22.0" font-weight="bold" fill="#000">4</text>
</svg>
</body></html>
